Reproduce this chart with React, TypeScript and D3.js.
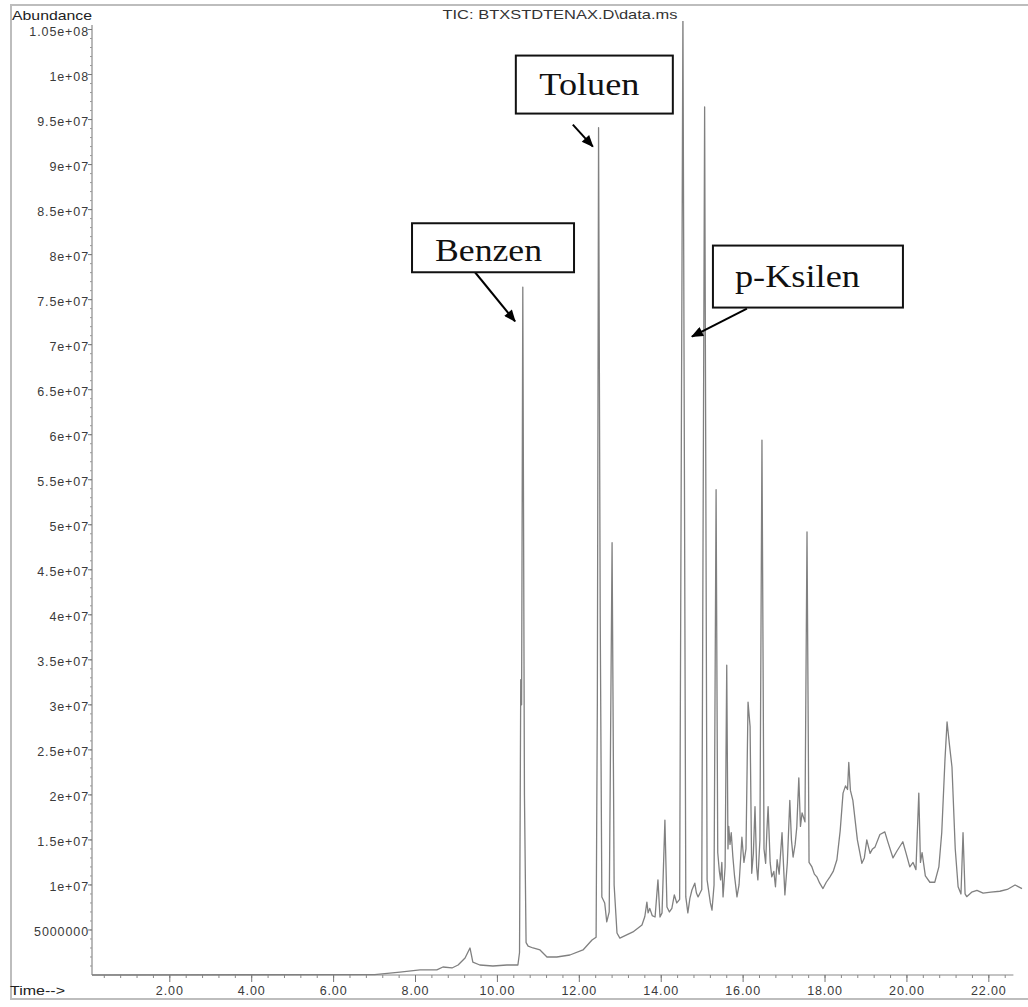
import React from 'react';
import * as d3 from 'd3';

// retention time (min) and abundance
const rtMin = [
  0.1, 7.0, 7.62, 8.11, 8.52, 8.67, 8.89, 9.04, 9.21, 9.33, 9.4, 9.57, 9.89, 10.23, 10.5,
  10.54, 10.57, 10.59, 10.62, 10.66, 10.7, 10.75, 10.87, 11.04, 11.21, 11.45, 11.77, 12.09, 12.31, 12.41,
  12.44, 12.47, 12.51, 12.55, 12.62, 12.67, 12.73, 12.8, 12.85, 12.92, 12.99, 13.31, 13.53, 13.6, 13.65,
  13.68, 13.72, 13.78, 13.85, 13.92, 13.97, 14.02, 14.09, 14.14, 14.2, 14.26, 14.32, 14.38, 14.45, 14.53,
  14.6, 14.65, 14.7, 14.75, 14.82, 14.86, 14.9, 14.99, 15.06, 15.12, 15.2, 15.24, 15.29, 15.34, 15.38,
  15.42, 15.45, 15.48, 15.51, 15.56, 15.6, 15.63, 15.65, 15.68, 15.71, 15.75, 15.79, 15.85, 15.9, 15.94,
  15.97, 16.02, 16.07, 16.12, 16.17, 16.21, 16.25, 16.29, 16.33, 16.36, 16.41, 16.46, 16.51, 16.55, 16.58,
  16.61, 16.66, 16.7, 16.75, 16.79, 16.83, 16.88, 16.95, 17.02, 17.08, 17.14, 17.18, 17.22, 17.27, 17.31,
  17.36, 17.4, 17.44, 17.51, 17.56, 17.61, 17.68, 17.74, 17.8, 17.87, 17.95, 18.03, 18.12, 18.2, 18.29,
  18.37, 18.44, 18.5, 18.55, 18.58, 18.62, 18.68, 18.79, 18.9, 18.96, 19.02, 19.1, 19.16, 19.22, 19.34,
  19.46, 19.54, 19.66, 19.76, 19.9, 19.98, 20.07, 20.15, 20.22, 20.29, 20.33, 20.37, 20.45, 20.56, 20.68,
  20.78, 20.85, 20.93, 20.98, 21.04, 21.1, 21.18, 21.25, 21.32, 21.37, 21.42, 21.46, 21.58, 21.71, 21.86,
  22.05, 22.27, 22.45, 22.64, 22.81,
];
const abundance = [
  0, 0.05e6, 0.33e6, 0.56e6, 0.56e6, 0.89e6, 0.78e6, 1.11e6, 1.89e6, 3.0e6, 1.44e6, 1.11e6, 1.0e6, 1.11e6, 1.11e6,
  2.5e6, 32.8e6, 30e6, 76.4e6, 20e6, 3.6e6, 3.2e6, 3.0e6, 2.78e6, 2.0e6, 2.0e6, 2.22e6, 2.78e6, 3.89e6, 4.2e6,
  30e6, 94.1e6, 40e6, 8.67e6, 8.0e6, 5.9e6, 7e6, 48e6, 10e6, 4.67e6, 4.1e6, 4.78e6, 5.56e6, 6.5e6, 8.1e6,
  6.9e6, 7.4e6, 6.6e6, 6.44e6, 10.56e6, 6.44e6, 6.9e6, 17.2e6, 7.56e6, 7.0e6, 7.4e6, 8.9e6, 8.0e6, 8.4e6, 107e6,
  8.67e6, 6.89e6, 8.5e6, 9.44e6, 10.2e6, 9.1e6, 8.67e6, 9.5e6, 96.4e6, 10.56e6, 8.0e6, 7.2e6, 10e6, 53.9e6, 13.6e6,
  11.5e6, 10.56e6, 12.5e6, 8.67e6, 12e6, 34.4e6, 14e6, 16.5e6, 14.5e6, 15.8e6, 13.1e6, 11e6, 8.67e6, 10e6, 13e6,
  15.3e6, 12.5e6, 14e6, 30.3e6, 27.6e6, 11.3e6, 13.5e6, 18.7e6, 12e6, 10.56e6, 15e6, 59.4e6, 14e6, 12.4e6, 16e6,
  18.7e6, 12.5e6, 10.9e6, 11.5e6, 9.8e6, 12.8e6, 11.2e6, 15.8e6, 8.9e6, 12.5e6, 19.4e6, 15e6, 13.1e6, 14.5e6, 16.4e6,
  21.9e6, 16.5e6, 18e6, 17e6, 49.2e6, 12.5e6, 12e6, 11.2e6, 10.9e6, 10.2e6, 9.6e6, 10.3e6, 10.9e6, 11.5e6, 12.8e6,
  16e6, 20.2e6, 21e6, 20.6e6, 23.6e6, 20.5e6, 19.4e6, 15e6, 12.4e6, 13e6, 15e6, 13.5e6, 14e6, 14.2e6, 15.6e6,
  15.9e6, 14.7e6, 13e6, 13.8e6, 14.8e6, 13.5e6, 12e6, 12.5e6, 11.7e6, 20.2e6, 12.5e6, 13.6e6, 11.0e6, 10.3e6, 10.3e6,
  12e6, 15.8e6, 24e6, 28.1e6, 25.5e6, 23.1e6, 14e6, 9.8e6, 9.0e6, 15.8e6, 9.0e6, 8.7e6, 9.2e6, 9.4e6, 9.1e6,
  9.2e6, 9.3e6, 9.5e6, 10e6, 9.6e6,
];

const yTickValues = [5e6, 1e7, 1.5e7, 2e7, 2.5e7, 3e7, 3.5e7, 4e7, 4.5e7, 5e7, 5.5e7, 6e7, 6.5e7, 7e7, 7.5e7, 8e7, 8.5e7, 9e7, 9.5e7, 1e8, 1.05e8];
const yTickLabels = ['5000000', '1e+07', '1.5e+07', '2e+07', '2.5e+07', '3e+07', '3.5e+07', '4e+07', '4.5e+07', '5e+07', '5.5e+07', '6e+07', '6.5e+07', '7e+07', '7.5e+07', '8e+07', '8.5e+07', '9e+07', '9.5e+07', '1e+08', '1.05e+08'];
const xTickValues = [2, 4, 6, 8, 10, 12, 14, 16, 18, 20, 22];
const xTickLabels = ['2.00', '4.00', '6.00', '8.00', '10.00', '12.00', '14.00', '16.00', '18.00', '20.00', '22.00'];

// compound labels: arrow tip in data space
const peakNames = ['Benzen', 'Toluen', 'p-Ksilen'];
const peakTipRt = [10.43, 12.33, 14.75];
const peakTipAbundance = [72.6e6, 92e6, 70.9e6];

// label box layout, offsets in px from the arrow tip
const labelLayout = [
  { tail: [-40, -49], box: [-103, -98, 162, 49], text: [-26.5, -60], textW: 107 },
  { tail: [-20, -22], box: [-77, -91, 157, 58], text: [-3.5, -52], textW: 100 },
  { tail: [55, -28], box: [21, -91, 190, 62], text: [105.5, -50], textW: 125 },
];

const W = 1028;
const H = 1007;
const sans = '"Liberation Sans", Arial, sans-serif';
const serif = '"Liberation Serif", "Times New Roman", serif';

export default function App() {
  const x = d3.scaleLinear().domain([0.1, 22.81]).range([92, 1022]);
  const y = d3.scaleLinear().domain([0, 1.055e8]).range([975, 25]);

  const pts = rtMin.map((t, i) => [t, abundance[i]] as [number, number]);
  const line = d3.line<[number, number]>().x(d => x(d[0])).y(d => y(d[1]));

  const minorY = d3.range(1e6, 1.055e8, 1e6);
  const minorX = d3.range(0.4, 22.7, 0.4);
  const x0 = x(0.1), x1 = x(22.6), y0 = y(0), yTop = y(1.055e8);

  return (
    <div style={{ position: 'absolute', left: 0, top: 0 }}>
      <svg width={W} height={H} style={{ display: 'block', background: '#fff' }}>
        <defs>
          <clipPath id="plot">
            <rect x={x0} y={21} width={W - x0} height={y0 - 21 + 2} />
          </clipPath>
          <marker id="head" viewBox="0 0 12 10" refX="11" refY="5" markerWidth="13" markerHeight="10"
            markerUnits="userSpaceOnUse" orient="auto">
            <path d="M0,0 L12,5 L0,10 Z" fill="#000" />
          </marker>
        </defs>

        {/* outer frame */}
        <line x1={10} x2={W} y1={5} y2={5} stroke="#bdbdbd" strokeWidth={2} />
        <line x1={11} x2={11} y1={5} y2={999} stroke="#bdbdbd" strokeWidth={2} />
        <line x1={10} x2={W} y1={999} y2={999} stroke="#bdbdbd" strokeWidth={2} />

        <text x={560} y={19} textAnchor="middle" fontFamily={sans} fontSize={13} fill="#333"
          textLength={235} lengthAdjust="spacingAndGlyphs">TIC: BTXSTDTENAX.D\data.ms</text>
        <text x={12} y={20} fontFamily={sans} fontSize={13} fill="#222"
          textLength={80} lengthAdjust="spacingAndGlyphs">Abundance</text>
        <text x={10} y={995} fontFamily={sans} fontSize={13} fill="#222"
          textLength={55} lengthAdjust="spacingAndGlyphs">Time--&gt;</text>

        {/* y axis */}
        <line x1={x0} x2={x0} y1={yTop} y2={y0} stroke="#8a8a8a" strokeWidth={1.2} />
        {minorY.map(v => (
          <line key={'my' + v} x1={x0 - 2} x2={x0} y1={y(v)} y2={y(v)} stroke="#999" strokeWidth={1} />
        ))}
        {yTickValues.map((v, i) => (
          <g key={'yt' + v}>
            <line x1={x0 - 4} x2={x0} y1={y(v)} y2={y(v)} stroke="#777" strokeWidth={1} />
            <text x={x0 - 3} y={y(v) + 6} textAnchor="end" fontFamily={sans} fontSize={12.5} fill="#3a3a3a"
              letterSpacing={0.9}>{yTickLabels[i]}</text>
          </g>
        ))}

        {/* x axis */}
        <line x1={x0} x2={x1} y1={y0} y2={y0} stroke="#8a8a8a" strokeWidth={1.2} />
        {minorX.map(t => (
          <line key={'mx' + t} x1={x(t)} x2={x(t)} y1={y0} y2={y0 + 3} stroke="#888" strokeWidth={1} />
        ))}
        {xTickValues.map((t, i) => (
          <g key={'xt' + t}>
            <line x1={x(t)} x2={x(t)} y1={y0} y2={y0 + 7} stroke="#777" strokeWidth={1} />
            <text x={x(t)} y={y0 + 20} textAnchor="middle" fontFamily={sans} fontSize={12.5} fill="#3a3a3a"
              letterSpacing={0.9}>{xTickLabels[i]}</text>
          </g>
        ))}

        {/* TIC trace */}
        <path d={line(pts) || ''} fill="none" stroke="#808080" strokeWidth={1.3} strokeLinejoin="round"
          clipPath="url(#plot)" />

        {/* compound labels */}
        {peakNames.map((name, i) => {
          const tx = x(peakTipRt[i]);
          const ty = y(peakTipAbundance[i]);
          const L = labelLayout[i];
          return (
            <g key={name}>
              <line x1={tx + L.tail[0]} y1={ty + L.tail[1]} x2={tx} y2={ty} stroke="#000" strokeWidth={2}
                markerEnd="url(#head)" />
              <rect x={tx + L.box[0]} y={ty + L.box[1]} width={L.box[2]} height={L.box[3]} fill="#fff"
                stroke="#111" strokeWidth={2} />
              <text x={tx + L.text[0]} y={ty + L.text[1]} textAnchor="middle" fontFamily={serif} fontSize={31}
                fill="#111" textLength={L.textW} lengthAdjust="spacingAndGlyphs">{name}</text>
            </g>
          );
        })}
      </svg>
    </div>
  );
}
